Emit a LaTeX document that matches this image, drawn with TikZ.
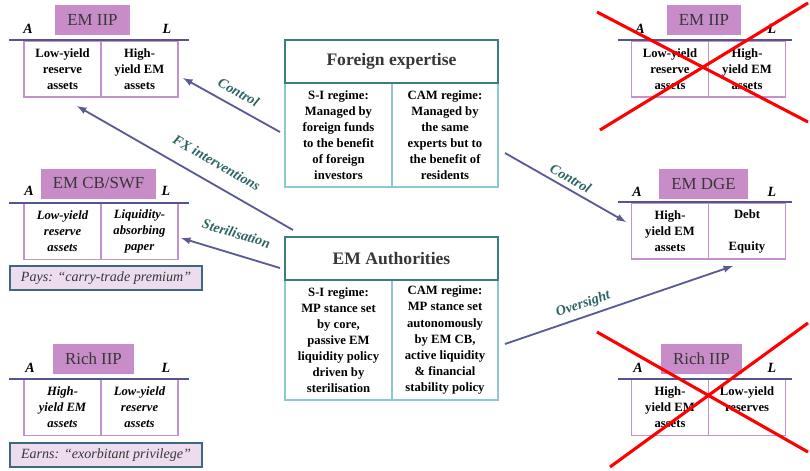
\documentclass[tikz,border=0pt]{standalone}
\usepackage{fontspec}
\setmainfont{Liberation Serif}
\usepackage{tikz}
\usetikzlibrary{arrows}
\usetikzlibrary{positioning}

\definecolor{titlepurple}{RGB}{200,140,200}
\definecolor{cellpurple}{RGB}{195,145,205}
\definecolor{rulepurple}{RGB}{85,85,140}
\definecolor{notefill}{RGB}{236,220,238}
\definecolor{noteedge}{RGB}{60,105,125}
\definecolor{tealdark}{RGB}{60,125,128}
\definecolor{teallight}{RGB}{140,200,205}
\definecolor{arrowblue}{RGB}{90,90,150}
\definecolor{labelteal}{RGB}{45,100,100}
\definecolor{inkgray}{RGB}{55,55,55}

\tikzset{
	sheettitle/.style={fill=titlepurple, inner xsep=0.3cm, minimum height=0.75cm, font=\fontsize{12}{12}\selectfont, text=inkgray},
	sheetcell/.style={draw=cellpurple, line width=1pt, minimum width=1.925cm, minimum height=1.4cm, align=center, inner sep=1pt, font=\fontsize{9}{11.4}\selectfont\bfseries},
	sheetrule/.style={draw=rulepurple, line width=1.2pt},
	sidetag/.style={font=\fontsize{10}{10}\selectfont\bfseries\itshape, anchor=base},
	notebox/.style={draw=noteedge, fill=notefill, line width=1pt, minimum width=4.8cm, minimum height=0.6cm, font=\fontsize{10}{10}\selectfont\itshape, text=inkgray},
	bigtitle/.style={draw=tealdark, line width=1.5pt, minimum width=5.325cm, minimum height=1.075cm, font=\fontsize{12.5}{12.5}\selectfont\bfseries, text=inkgray},
	bigcell/.style={draw=teallight, line width=1.5pt, align=center, inner sep=1pt, font=\fontsize{9}{11.4}\selectfont\bfseries},
	link/.style={->,>=latex, draw=arrowblue, line width=1.3pt},
	linklabel/.style={sloped, above, font=\fontsize{10}{10}\selectfont\bfseries\itshape, text=labelteal},
	crossout/.style={draw=red, line width=2.2pt}
}

\begin{document}
\begin{tikzpicture}[x=0.025cm,y=-0.025cm]
	\useasboundingbox (0,0) rectangle (810,470);

	% left column: EM IIP
	\node[sheetcell] (iipA) at (62.5,69) {Low-yield\\reserve\\assets};
	\node[sheetcell, right=-1pt of iipA] (iipL) {High-\\yield EM\\assets};
	\draw[sheetrule] ([xshift=-0.35cm]iipA.north west) -- ([xshift=0.25cm]iipL.north east);
	\node[sheettitle] (iipT) at (92.5,20) {EM IIP};
	\node[sidetag] (iipAt) at (28,33) {A};
	\node[sidetag] (iipLt) at (167,33) {L};

	% left column: EM CB/SWF
	\node[sheetcell, font=\fontsize{9}{11.4}\selectfont\bfseries\itshape] (cbA) at (62.5,231.5) {Low-yield\\reserve\\assets};
	\node[sheetcell, font=\fontsize{9}{11.4}\selectfont\bfseries\itshape, right=-1pt of cbA] (cbL) {Liquidity-\\absorbing\\paper};
	\draw[sheetrule] ([xshift=-0.35cm]cbA.north west) -- ([xshift=0.25cm]cbL.north east);
	\node[sheettitle] (cbT) at (98.5,183.5) {EM CB/SWF};
	\node[sidetag] (cbAt) at (29,195) {A};
	\node[sidetag] (cbLt) at (166,195) {L};
	\node[notebox] (cbNote) at (106,278) {Pays: “carry-trade premium”};

	% left column: Rich IIP
	\node[sheetcell, font=\fontsize{9}{11.4}\selectfont\bfseries\itshape] (richA) at (62.5,407.5) {High-\\yield EM\\assets};
	\node[sheetcell, font=\fontsize{9}{11.4}\selectfont\bfseries\itshape, right=-1pt of richA] (richL) {Low-yield\\reserve\\assets};
	\draw[sheetrule] ([xshift=-0.35cm]richA.north west) -- ([xshift=0.25cm]richL.north east);
	\node[sheettitle] (richT) at (93.5,359) {Rich IIP};
	\node[sidetag] (richAt) at (30,372) {A};
	\node[sidetag] (richLt) at (166,372) {L};
	\node[notebox] (richNote) at (106,455) {Earns: “exorbitant privilege”};

	% centre: Foreign expertise
	\node[bigcell, minimum width=2.675cm, minimum height=2.6cm] (fxS) at (338.5,135) {S-I regime:\\Managed by\\foreign funds\\to the benefit\\of foreign\\investors};
	\node[bigcell, minimum width=2.65cm, minimum height=2.6cm] (fxC) at (445,135) {CAM regime:\\Managed by\\the same\\experts but to\\the benefit of\\residents};
	\node[bigtitle] (fxT) at (391.5,61.5) {Foreign expertise};

	% centre: EM Authorities
	\node[bigcell, minimum width=2.675cm, minimum height=3.0cm] (auS) at (338.5,340) {S-I regime:\\MP stance set\\by core,\\passive EM\\liquidity policy\\driven by\\sterilisation};
	\node[bigcell, minimum width=2.65cm, minimum height=3.0cm] (auC) at (445,340) {CAM regime:\\MP stance set\\autonomously\\by EM CB,\\active liquidity\\\& financial\\stability policy};
	\node[bigtitle] (auT) at (391.5,258.5) {EM Authorities};

	% right column: EM IIP (crossed out)
	\node[sheetcell] (xiipA) at (670,69) {Low-yield\\reserve\\assets};
	\node[sheetcell, right=-1pt of xiipA] (xiipL) {High-\\yield EM\\assets};
	\draw[sheetrule] ([xshift=-0.33cm]xiipA.north west) -- ([xshift=0.15cm]xiipL.north east);
	\node[sheettitle] (xiipT) at (704,20) {EM IIP};
	\node[sidetag] (xiipAt) at (640,33) {A};
	\node[sidetag] (xiipLt) at (772,33) {L};

	% right column: EM DGE
	\node[sheetcell] (dgeA) at (670,231) {High-\\yield EM\\assets};
	\node[sheetcell, right=-1pt of dgeA] (dgeL) {Debt\\[0.4cm]Equity};
	\draw[sheetrule] ([xshift=-0.33cm]dgeA.north west) -- ([xshift=0.15cm]dgeL.north east);
	\node[sheettitle] (dgeT) at (703.5,184) {EM DGE};
	\node[sidetag] (dgeAt) at (637,196) {A};
	\node[sidetag] (dgeLt) at (772,196) {L};

	% right column: Rich IIP (crossed out)
	\node[sheetcell] (xrichA) at (670,407.5) {High-\\yield EM\\assets};
	\node[sheetcell, right=-1pt of xrichA] (xrichL) {Low-yield\\reserves\\\phantom{assets}};
	\draw[sheetrule] ([xshift=-0.33cm]xrichA.north west) -- ([xshift=0.15cm]xrichL.north east);
	\node[sheettitle] (xrichT) at (701.5,359) {Rich IIP};
	\node[sidetag] (xrichAt) at (638,372) {A};
	\node[sidetag] (xrichLt) at (772,372) {L};

	% arrow ends
	\coordinate (ctlA) at (280,132);
	\coordinate (ctlB) at (183,78);
	\coordinate (fxiA) at (293,230);
	\coordinate (fxiB) at (77,106);
	\coordinate (steA) at (280,268);
	\coordinate (steB) at (181,238);
	\coordinate (ctrA) at (505,153);
	\coordinate (ctrB) at (626,222);
	\coordinate (ovsA) at (505,344);
	\coordinate (ovsB) at (733,266);

	\draw[link] (ctlA) -- node[linklabel, yshift=3pt] {Control} (ctlB);
	\draw[link] (fxiA) -- node[linklabel, pos=0.4, yshift=7pt] {FX interventions} (fxiB);
	\draw[link] (steA) -- node[linklabel, pos=0.5, yshift=7pt] {Sterilisation} (steB);
	\draw[link] (ctrA) -- node[linklabel, pos=0.5] {Control} (ctrB);
	\draw[link] (ovsA) -- node[linklabel, pos=0.36] {Oversight} (ovsB);

	% crosses
	\draw[crossout] (597,12) -- (808,122);
	\draw[crossout] (600,130) -- (808,3);
	\draw[crossout] (597,332) -- (808,452);
	\draw[crossout] (610,467) -- (808,323);

\end{tikzpicture}
\end{document}
